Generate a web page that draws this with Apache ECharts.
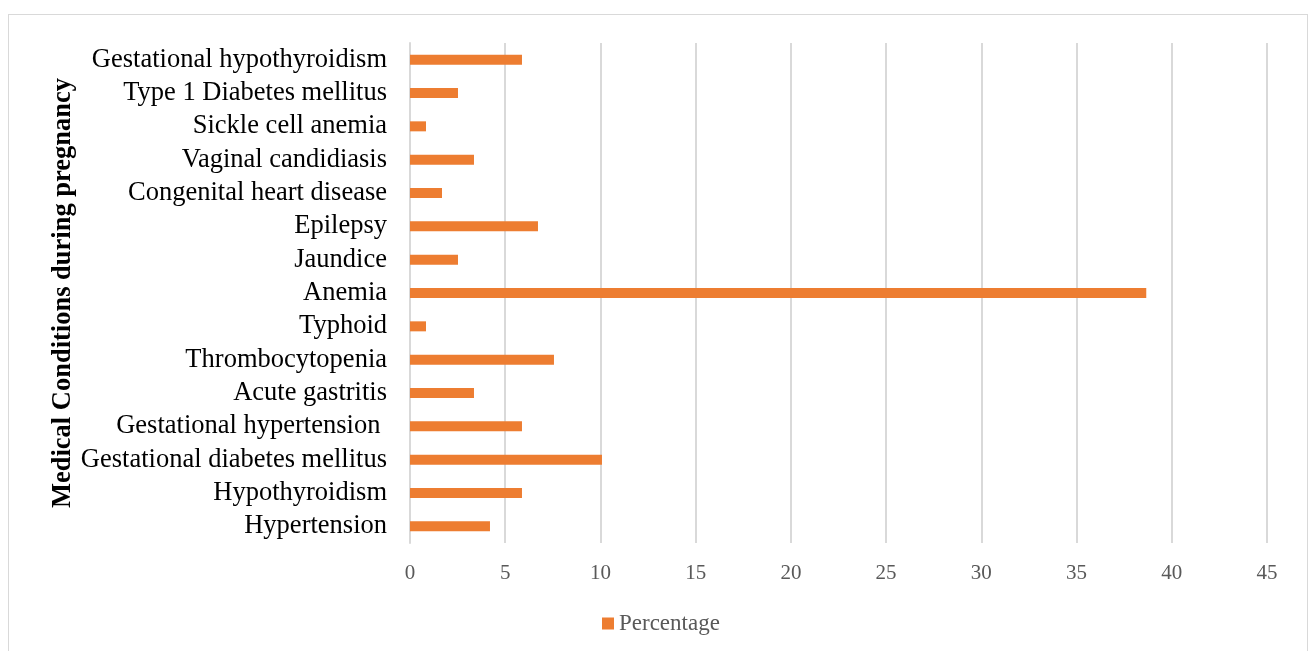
<!DOCTYPE html>
<html><head><meta charset="utf-8">
<script src="https://cdn.jsdelivr.net/npm/echarts@6/dist/echarts.min.js"></script>
<style>html,body{margin:0;padding:0;background:#fff}#c{width:1308px;height:651px}
#frame{position:absolute;left:8px;top:14px;width:1300px;height:650px;border:1px solid #d9d9d9;box-sizing:border-box;pointer-events:none}</style>
</head><body><div id="c"></div><div id="frame"></div>
<script>
const categories = ["Hypertension","Hypothyroidism","Gestational diabetes mellitus","Gestational hypertension ","Acute gastritis","Thrombocytopenia","Typhoid","Anemia","Jaundice","Epilepsy","Congenital heart disease","Vaginal candidiasis","Sickle cell anemia","Type 1 Diabetes mellitus","Gestational hypothyroidism"];
const percentage = [4.20,5.88,10.08,5.88,3.36,7.56,0.84,38.66,2.52,6.72,1.68,3.36,0.84,2.52,5.88];
const xTicks = {min:0,max:45,interval:5};
const chart = echarts.init(document.getElementById('c'));
const font = '"Liberation Serif","Times New Roman",serif';
chart.setOption({
  animation:false,
  textStyle:{fontFamily:font},
  grid:{left:410,right:41,top:43,bottom:108,containLabel:false},
  legend:{top:607,left:597,itemWidth:12,itemHeight:12,icon:'rect',itemGap:5,
    textStyle:{fontFamily:font,fontSize:23,color:'#595959'},data:['Percentage']},
  xAxis:{type:'value',min:xTicks.min,max:xTicks.max,interval:xTicks.interval,
    axisLine:{show:false},axisTick:{show:false},
    splitLine:{lineStyle:{color:'#d9d9d9',width:2}},
    axisLabel:{fontFamily:font,fontSize:21,color:'#595959',margin:20}},
  yAxis:{type:'category',data:categories,
    name:'Medical Conditions during pregnancy',nameLocation:'middle',nameGap:333,nameMoveOverlap:false,
    nameTextStyle:{fontFamily:font,fontSize:26.5,fontWeight:'bold',color:'#000'},
    axisLine:{show:true,lineStyle:{color:'#d9d9d9',width:2}},axisTick:{show:false},
    axisLabel:{interval:0,fontFamily:font,fontSize:26.5,color:'#000',margin:23,padding:[6,0,0,0]}},
  series:[{name:'Percentage',type:'bar',data:percentage,barWidth:10,
    itemStyle:{color:'#ED7D31'}}]
});
</script></body></html>
